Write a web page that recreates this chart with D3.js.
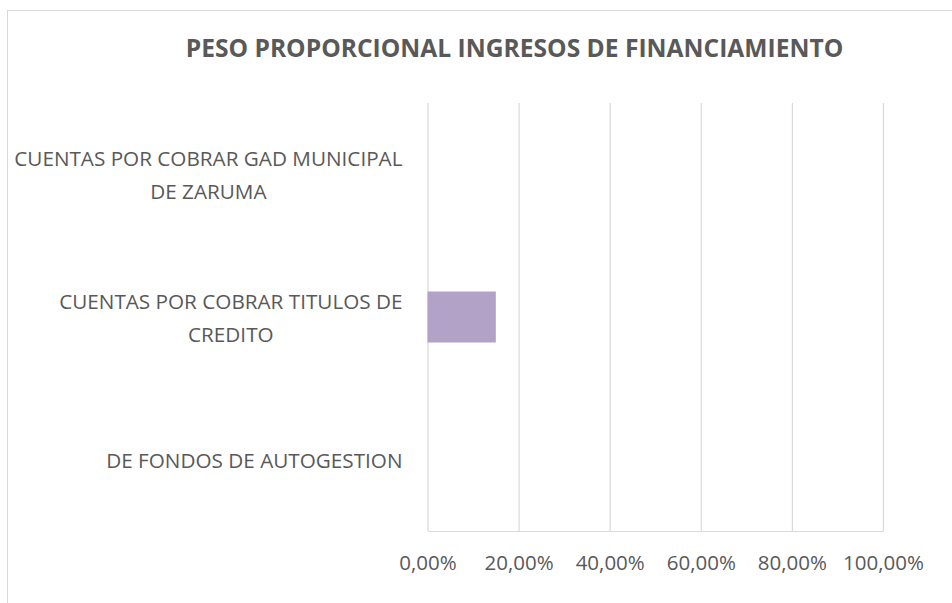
<html>
<head>
<meta charset='utf-8'>
<script src='https://cdn.jsdelivr.net/npm/d3@7/dist/d3.min.js'></script>
<style>
  body { margin: 0; background: #fff; }
  text { font-family: 'Open Sans', sans-serif; fill: #595959; }
</style>
</head>
<body>
<div id='chartContainer'></div>
<script type='text/javascript'>
  'use strict';

  // data
  var categories = [
    'CUENTAS POR COBRAR GAD MUNICIPAL DE ZARUMA',
    'CUENTAS POR COBRAR TITULOS DE CREDITO',
    'DE FONDOS DE AUTOGESTION'
  ];
  var values = [0, 0.15, 0];
  var tickValues = [0, 0.2, 0.4, 0.6, 0.8, 1];
  var title = 'PESO PROPORCIONAL INGRESOS DE FINANCIAMIENTO';

  var width = 952, height = 603;
  var plotLeft = 427.5, plotRight = 883, plotTop = 103, plotBottom = 531;

  var svg = d3.select('#chartContainer')
    .append('svg')
      .attr('width', width)
      .attr('height', height);

  // chart frame (runs off the right and bottom edge)
  svg.append('rect')
    .attr('x', 7.5).attr('y', 10.5)
    .attr('width', 1000).attr('height', 700)
    .attr('fill', 'none')
    .attr('stroke', '#d9d9d9');

  svg.append('text')
    .attr('x', 514.5).attr('y', 56.5)
    .attr('text-anchor', 'middle')
    .style('font-size', '24.6px')
    .style('font-weight', 'bold')
    .text(title);

  var locale = d3.formatLocale({ decimal: ',', thousands: '.', grouping: [3], currency: ['', ''] });
  var pct = locale.format('.2%');

  var x = d3.scaleLinear().domain([0, 1]).range([plotLeft, plotRight]);
  var y = d3.scaleBand().domain(categories).range([plotTop, plotBottom])
    .paddingInner(0.643).paddingOuter(0.32);

  // gridlines
  var grid = svg.append('g')
    .attr('transform', 'translate(0,' + plotBottom + ')')
    .call(d3.axisBottom(x).tickValues(tickValues).tickSize(-(plotBottom - plotTop)).tickFormat(''));
  grid.select('.domain').remove();
  grid.selectAll('line').attr('stroke', '#d9d9d9').attr('stroke-width', 1.2);

  // bars
  svg.selectAll('rect.bar')
    .data(categories)
    .enter()
    .append('rect')
      .attr('class', 'bar')
      .attr('x', x(0))
      .attr('y', function (d) { return y(d); })
      .attr('width', function (d, i) { return x(values[i]) - x(0); })
      .attr('height', y.bandwidth())
      .attr('fill', '#b3a2c7');

  // x axis
  var xAxis = svg.append('g')
    .attr('transform', 'translate(0,' + plotBottom + ')')
    .call(d3.axisBottom(x).tickValues(tickValues).tickSize(0).tickPadding(24).tickFormat(pct));
  xAxis.select('.domain').attr('stroke', '#d9d9d9').attr('stroke-width', 1.2);
  xAxis.selectAll('text')
    .style('font-size', '20.5px')
    .style('font-family', "'Open Sans', sans-serif")
    .attr('fill', '#595959');

  // y axis labels, wrapped and centred as blocks
  var yAxis = svg.append('g')
    .attr('transform', 'translate(' + plotLeft + ',0)')
    .call(d3.axisLeft(y).tickSize(0));
  yAxis.select('.domain').remove();
  yAxis.selectAll('text')
    .style('font-size', '20.7px')
    .style('font-family', "'Open Sans', sans-serif")
    .attr('fill', '#595959')
    .each(function (d) {
      var t = d3.select(this);
      var words = d.split(' ');
      t.text(null);
      var lines = [], line = [];
      var probe = t.append('tspan');
      words.forEach(function (w) {
        line.push(w);
        probe.text(line.join(' '));
        if (probe.node().getComputedTextLength() > 400 && line.length > 1) {
          line.pop();
          lines.push(line.join(' '));
          line = [w];
        }
      });
      lines.push(line.join(' '));
      probe.remove();
      var lh = 33;
      var maxW = 0;
      var spans = lines.map(function (l, i) {
        var s = t.append('tspan').text(l)
          .attr('dy', i === 0 ? (-(lines.length - 1) * lh / 2) + 'px' : lh + 'px')
          .attr('dominant-baseline', 'central');
        maxW = Math.max(maxW, s.node().getComputedTextLength());
        return s;
      });
      var cx = -25 - maxW / 2;
      t.attr('text-anchor', 'middle').attr('x', cx).attr('dy', null);
      spans.forEach(function (s) { s.attr('x', cx); });
    });
</script>
</body>
</html>
